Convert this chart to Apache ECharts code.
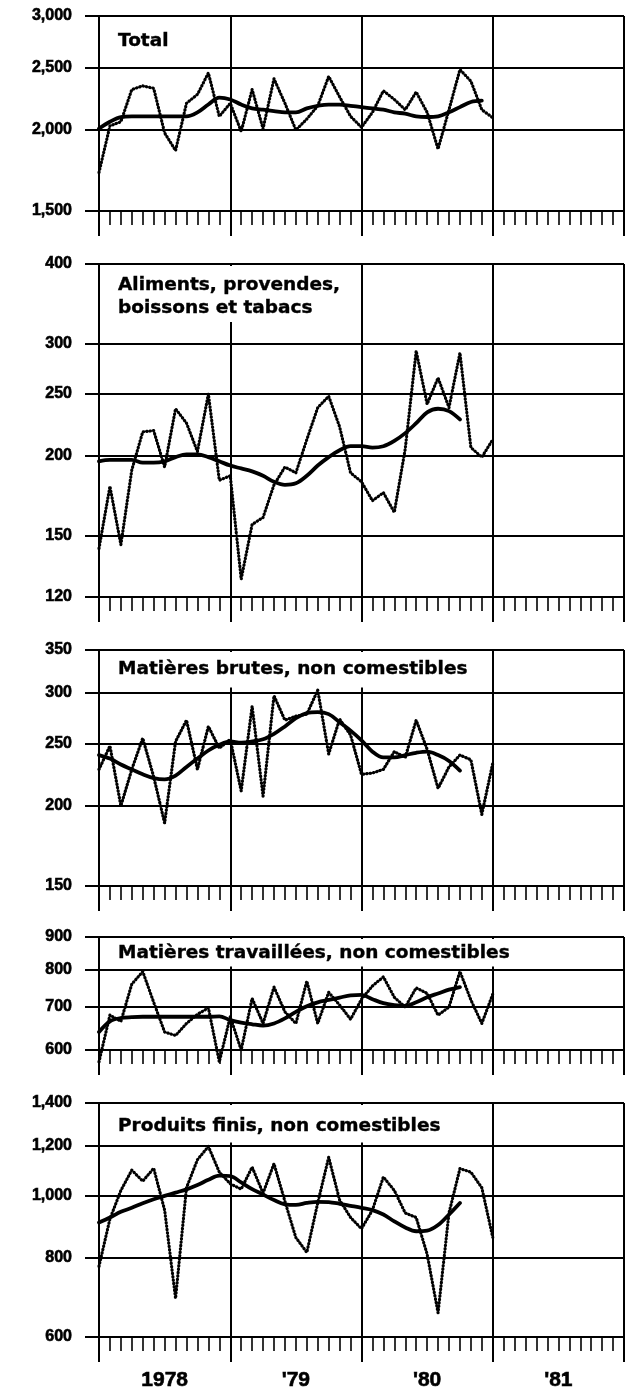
<!DOCTYPE html>
<html><head><meta charset="utf-8">
<script src="https://cdn.jsdelivr.net/npm/echarts@6/dist/echarts.min.js"></script>
<style>html,body{margin:0;padding:0;background:#fff}#c{width:634px;height:1396px}</style>
</head><body><div id="c"></div>
<script>
// month index: 0 = Jan 1978 ... 36 = Jan 1981
const monthIndex = [0,1,2,3,4,5,6,7,8,9,10,11,12,13,14,15,16,17,18,19,20,21,22,23,24,25,26,27,28,29,30,31,32,33,34,35,36];
const yearLabels = ['1978', "'79", "'80", "'81"];
const yearLabelPos = [6, 18, 30, 42];

const panelTitles = ['Total', 'Aliments, provendes,\nboissons et tabacs', 'Matières brutes, non comestibles', 'Matières travaillées, non comestibles', 'Produits finis, non comestibles'];

const totalTicks = [1500, 2000, 2500, 3000];
const alimTicks = [120, 150, 200, 250, 300, 400];
const brutTicks = [150, 200, 250, 300, 350];
const travTicks = [600, 700, 800, 900];
const finisTicks = [600, 800, 1000, 1200, 1400];

const totalRaw = [1720,2030,2060,2310,2340,2320,1980,1860,2200,2270,2450,2100,2200,1990,2310,2010,2400,2200,2000,2080,2180,2420,2250,2100,2020,2130,2300,2230,2150,2290,2130,1870,2150,2480,2380,2150,2090];
const totalTrend = [2010,2060,2095,2100,2100,2100,2100,2100,2100,2130,2190,2245,2230,2190,2160,2150,2140,2130,2130,2160,2180,2190,2190,2180,2170,2160,2150,2130,2120,2100,2095,2100,2130,2170,2210,2220];

const alimRaw = [143,179,145,190,218,219,192,237,225,203,250,183,186,128,156,160,180,192,188,212,238,248,222,188,182,170,175,163,205,292,241,265,238,290,206,199,212];
const alimTrend = [196,197,197,197,195,195,196,199,201,201,199,196,193,191,189,186,182,180,181,186,193,199,204,207,207,206,207,211,217,225,234,237,235,228];

const brutRaw = [228,248,200,228,255,222,188,252,272,228,266,246,254,211,286,207,297,272,276,278,303,241,273,258,224,225,228,243,238,272,245,213,230,240,236,194,233];
const brutTrend = [240,237,232,228,224,221,220,223,230,237,244,249,252,251,252,254,259,266,274,279,280,278,270,262,253,243,238,238,240,242,243,240,235,227];

const travRaw = [575,680,665,760,795,712,640,632,660,682,698,575,676,600,722,660,752,688,660,768,660,738,705,670,720,755,780,725,700,750,735,680,700,795,718,660,733];
const travTrend = [640,665,673,675,676,676,676,676,676,676,676,677,668,662,658,655,660,672,688,702,712,718,724,730,731,720,710,705,703,712,725,735,745,752];

const finisRaw = [775,920,1020,1098,1055,1105,950,690,1030,1140,1196,1090,1045,1025,1110,1010,1124,980,860,815,975,1150,985,925,888,950,1071,1020,940,925,810,655,940,1104,1090,1030,861];
const finisTrend = [908,925,944,958,974,988,1000,1012,1024,1040,1060,1076,1074,1050,1025,1005,985,970,968,975,979,978,972,965,958,950,935,912,892,880,882,900,935,975];

const panels = [
  {raw: totalRaw, trend: totalTrend, ticks: totalTicks, top: 16, bottom: 211, tTop: 18, pad: [11,6,4,15]},
  {raw: alimRaw, trend: alimTrend, ticks: alimTicks, top: 264, bottom: 597, tTop: 266, pad: [7,6,2,15]},
  {raw: brutRaw, trend: brutTrend, ticks: brutTicks, top: 650, bottom: 886, tTop: 652, pad: [5,5,7,15]},
  {raw: travRaw, trend: travTrend, ticks: travTicks, top: 937, bottom: 1050, tTop: 939, pad: [2,5,2,15]},
  {raw: finisRaw, trend: finisTrend, ticks: finisTicks, top: 1103, bottom: 1337, tTop: 1105, pad: [9,5,5,15]}
];

const black = '#000';
const grid = [], xAxis = [], yAxis = [], series = [], title = [];
panels.forEach((p, i) => {
  grid.push({left: 99, right: 10, top: p.top, height: p.bottom - p.top});
  const last = i === panels.length - 1;
  xAxis.push({
    type: 'value', gridIndex: i, min: 0, max: 48, interval: 12,
    axisLine: {show: true, onZero: false, lineStyle: {color: black, width: 2}},
    axisTick: {show: true, length: 25, lineStyle: {color: black, width: 2}},
    minorTick: {show: true, splitNumber: 12, length: 14, lineStyle: {color: black, width: 1.6}},
    minorSplitLine: {show: false},
    splitLine: {show: true, lineStyle: {color: black, width: 2}},
    axisLabel: last ? {
      show: true, customValues: yearLabelPos,
      formatter: v => yearLabels[yearLabelPos.indexOf(v)],
      margin: 33, fontSize: 21, fontWeight: 'bold', fontFamily: 'Liberation Sans', color: black,
      textBorderColor: black, textBorderWidth: 0.6
    } : {show: false}
  });
  yAxis.push({
    type: 'log', logBase: 10, gridIndex: i, min: p.ticks[0], max: p.ticks[p.ticks.length - 1],
    axisLine: {show: true, lineStyle: {color: black, width: 2}},
    axisTick: {show: true, length: 14, customValues: p.ticks, lineStyle: {color: black, width: 2}},
    minorTick: {show: false},
    axisLabel: {show: true, customValues: p.ticks, formatter: v => Number(v).toLocaleString('en-US'),
      margin: 27, fontSize: 16, fontWeight: 'bold', fontFamily: 'Liberation Sans', color: black,
      textBorderColor: black, textBorderWidth: 0.6},
    splitLine: {show: true, lineStyle: {color: black, width: 2}}
  });
  series.push({
    type: 'line', xAxisIndex: i, yAxisIndex: i, showSymbol: false, silent: true, clip: false, z: 3,
    data: p.raw.map((v, j) => [monthIndex[j], v]),
    lineStyle: {color: black, width: 3.2, type: [0.4, 3.0], cap: 'round', join: 'round'}
  });
  series.push({
    type: 'line', xAxisIndex: i, yAxisIndex: i, showSymbol: false, silent: true, smooth: 0.35, z: 4,
    data: p.trend.map((v, j) => [monthIndex[j], v]),
    lineStyle: {color: black, width: 3.8, cap: 'round', join: 'round'}
  });
  title.push({
    text: panelTitles[i], left: 103, top: p.tTop, padding: p.pad, backgroundColor: '#fff',
    textStyle: {fontFamily: 'DejaVu Sans', fontWeight: 'bold', fontSize: 18.5, lineHeight: 23.5, color: black,
      textBorderColor: black, textBorderWidth: 0.4}
  });
});

const chart = echarts.init(document.getElementById('c'), null, {renderer: 'canvas'});
chart.setOption({animation: false, backgroundColor: '#fff', title, grid, xAxis, yAxis, series});
</script>
</body></html>
